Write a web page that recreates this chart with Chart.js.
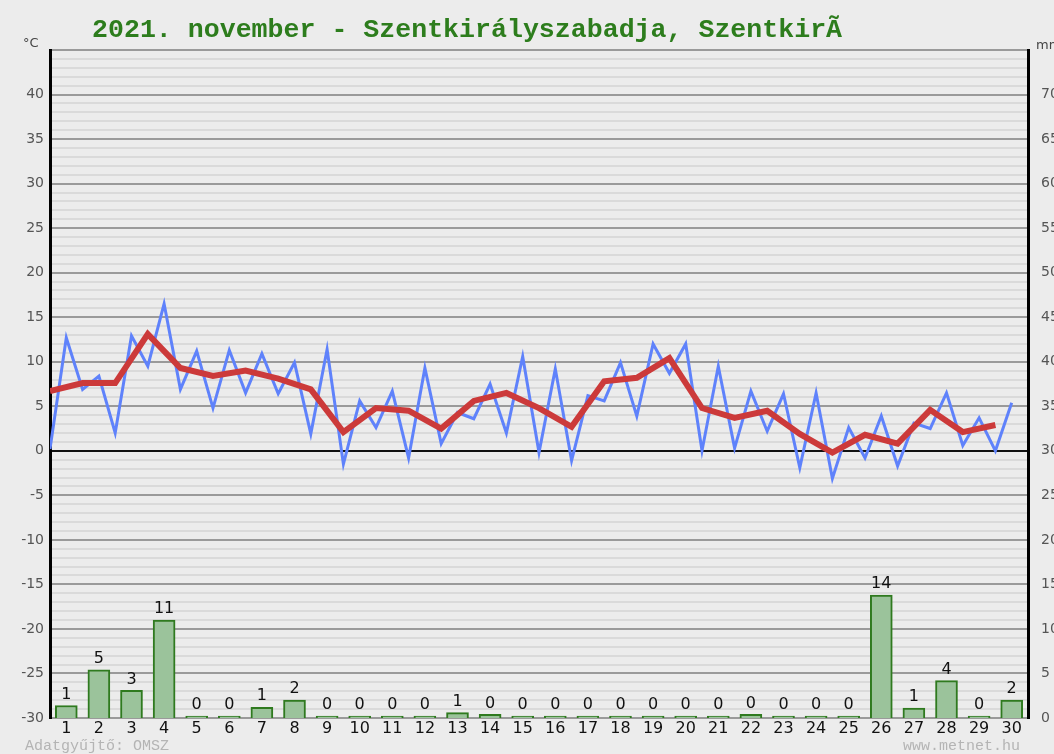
<!DOCTYPE html>
<html>
<head>
<meta charset="utf-8">
<script src="https://cdn.jsdelivr.net/npm/chart.js@4.4.1/dist/chart.umd.min.js"></script>
<style>
  body { margin: 0; background: #ececec; }
  #wrap { width: 1054px; height: 754px; }
</style>
</head>
<body>
<div id="wrap"><canvas id="chart" width="1054" height="754"></canvas></div>
<script>
const napok = ["1","2","3","4","5","6","7","8","9","10","11","12","13","14","15","16","17","18","19","20","21","22","23","24","25","26","27","28","29","30"];

// hőmérséklet félnaponként (60 pont)
const homerseklet = [
  0.2, 12.7, 6.9, 8.4, 2.0, 12.9, 9.5, 16.5, 6.9, 11.2,
  4.8, 11.3, 6.5, 10.9, 6.4, 9.9, 1.9, 11.4, -1.5, 5.6,
  2.6, 6.7, -0.8, 9.3, 0.8, 4.3, 3.6, 7.5, 2.0, 10.6,
  -0.2, 9.2, -1.1, 6.2, 5.6, 9.9, 3.9, 12.0, 8.7, 12.0,
  0.0, 9.5, 0.3, 6.7, 2.2, 6.4, -1.9, 6.5, -3.1, 2.6,
  -0.8, 3.9, -1.7, 3.1, 2.5, 6.5, 0.6, 3.7, 0.0, 5.4
];

// napi középhőmérséklet
const kozep = [
  6.7, 7.6, 7.6, 13.1, 9.3, 8.4, 9.0, 8.1, 6.9, 2.1,
  4.8, 4.5, 2.5, 5.6, 6.5, 4.8, 2.7, 7.8, 8.2, 10.4,
  4.8, 3.7, 4.5, 1.9, -0.2, 1.8, 0.8, 4.6, 2.1, 2.9
];

// csapadék mm
const csapadek = [
  1.4, 5.4, 3.1, 11.0, 0, 0, 1.2, 2.0, 0, 0,
  0, 0, 0.6, 0.4, 0, 0, 0, 0, 0, 0,
  0, 0.4, 0, 0, 0, 13.8, 1.1, 4.2, 0, 2.0
];

const bal = {min: -30, max: 45};
const jobb = {min: 0, max: 75};

const szoveg = {
  id: 'szoveg',
  afterDraw(chart) {
    const c = chart.ctx;
    c.save();
    c.fillStyle = '#2d7d1d';
    c.font = 'bold 26.6px "Liberation Mono", monospace';
    c.textBaseline = 'middle';
    c.textAlign = 'left';
    c.fillText('2021. november - Szentkirályszabadja, SzentkirÃ', 92, 30);
    c.fillStyle = '#444';
    c.font = '13px "DejaVu Sans", sans-serif';
    c.fillText('°C', 23, 44);
    c.fillText('mm', 1036, 46);
    c.fillStyle = '#b4b4b4';
    c.font = '15px "Liberation Mono", monospace';
    c.fillText('Adatgyűjtő: OMSZ', 25, 746);
    c.textAlign = 'right';
    c.fillText('www.metnet.hu', 1020, 746);
    c.restore();
  }
};

const ertekek = {
  id: 'ertekek',
  afterDatasetsDraw(chart) {
    const c = chart.ctx;
    const meta = chart.getDatasetMeta(0);
    c.save();
    c.fillStyle = '#111';
    c.font = '16px "DejaVu Sans", sans-serif';
    c.textAlign = 'center';
    c.textBaseline = 'bottom';
    meta.data.forEach((bar, i) => {
      c.fillText(String(Math.round(csapadek[i])), bar.x, Math.min(bar.y, bar.base - 2) - 3);
    });
    c.restore();
  }
};

new Chart(document.getElementById('chart'), {
  data: {
    labels: napok,
    datasets: [
      {
        type: 'bar',
        data: csapadek,
        yAxisID: 'y2',
        xAxisID: 'x',
        backgroundColor: '#9bc39b',
        borderColor: '#2f7a1f',
        borderWidth: 2,
        grouped: false,
        barThickness: 22,
        maxBarThickness: 22,
        minBarLength: 2,
        order: 3
      },
      {
        type: 'line',
        data: homerseklet.map((v, i) => ({x: i / 2, y: v})),
        xAxisID: 'x2',
        yAxisID: 'y',
        borderColor: '#5f82fb',
        borderWidth: 3,
        pointRadius: 0,
        tension: 0,
        order: 2
      },
      {
        type: 'line',
        data: kozep.map((v, i) => ({x: i, y: v})),
        xAxisID: 'x2',
        yAxisID: 'y',
        borderColor: '#cc3a3a',
        borderWidth: 6,
        pointRadius: 0,
        tension: 0,
        order: 1
      }
    ]
  },
  options: {
    responsive: false,
    animation: false,
    layout: {padding: {top: 50, left: 0, right: 0, bottom: 0}},
    plugins: {legend: {display: false}, tooltip: {enabled: false}},
    scales: {
      x: {
        type: 'category',
        offset: true,
        grid: {display: false, drawTicks: false, tickLength: 0},
        border: {display: false},
        ticks: {color: '#111', font: {size: 16, family: 'DejaVu Sans'}, padding: 1, autoSkip: false, maxRotation: 0},
        afterFit(s) { s.height = 36; }
      },
      x2: {
        type: 'linear',
        display: false,
        min: 0,
        max: 30
      },
      y: {
        position: 'left',
        min: bal.min,
        max: bal.max,
        ticks: {
          stepSize: 1,
          autoSkip: false,
          maxTicksLimit: 100,
          color: '#555',
          padding: 6,
          font: {size: 14, family: 'DejaVu Sans'},
          callback: v => (v % 5 === 0 && v < 45) ? String(v) : ''
        },
        grid: {
          drawTicks: false,
          lineWidth: 2,
          color: ctx => {
            const v = ctx.tick.value;
            if (v === 0) return '#111';
            if (v % 5 === 0) return '#9a9a9a';
            return '#dadada';
          }
        },
        border: {display: true, color: '#000', width: 3},
        afterFit(s) { s.width = 50; }
      },
      y2: {
        position: 'right',
        min: jobb.min,
        max: jobb.max,
        ticks: {
          stepSize: 5,
          autoSkip: false,
          color: '#555',
          padding: 5,
          font: {size: 14, family: 'DejaVu Sans'},
          callback: v => v < 75 ? String(v) : ''
        },
        grid: {display: false},
        border: {display: true, color: '#000', width: 3},
        afterFit(s) { s.width = 26; }
      }
    }
  },
  plugins: [szoveg, ertekek]
});
</script>
</body>
</html>
